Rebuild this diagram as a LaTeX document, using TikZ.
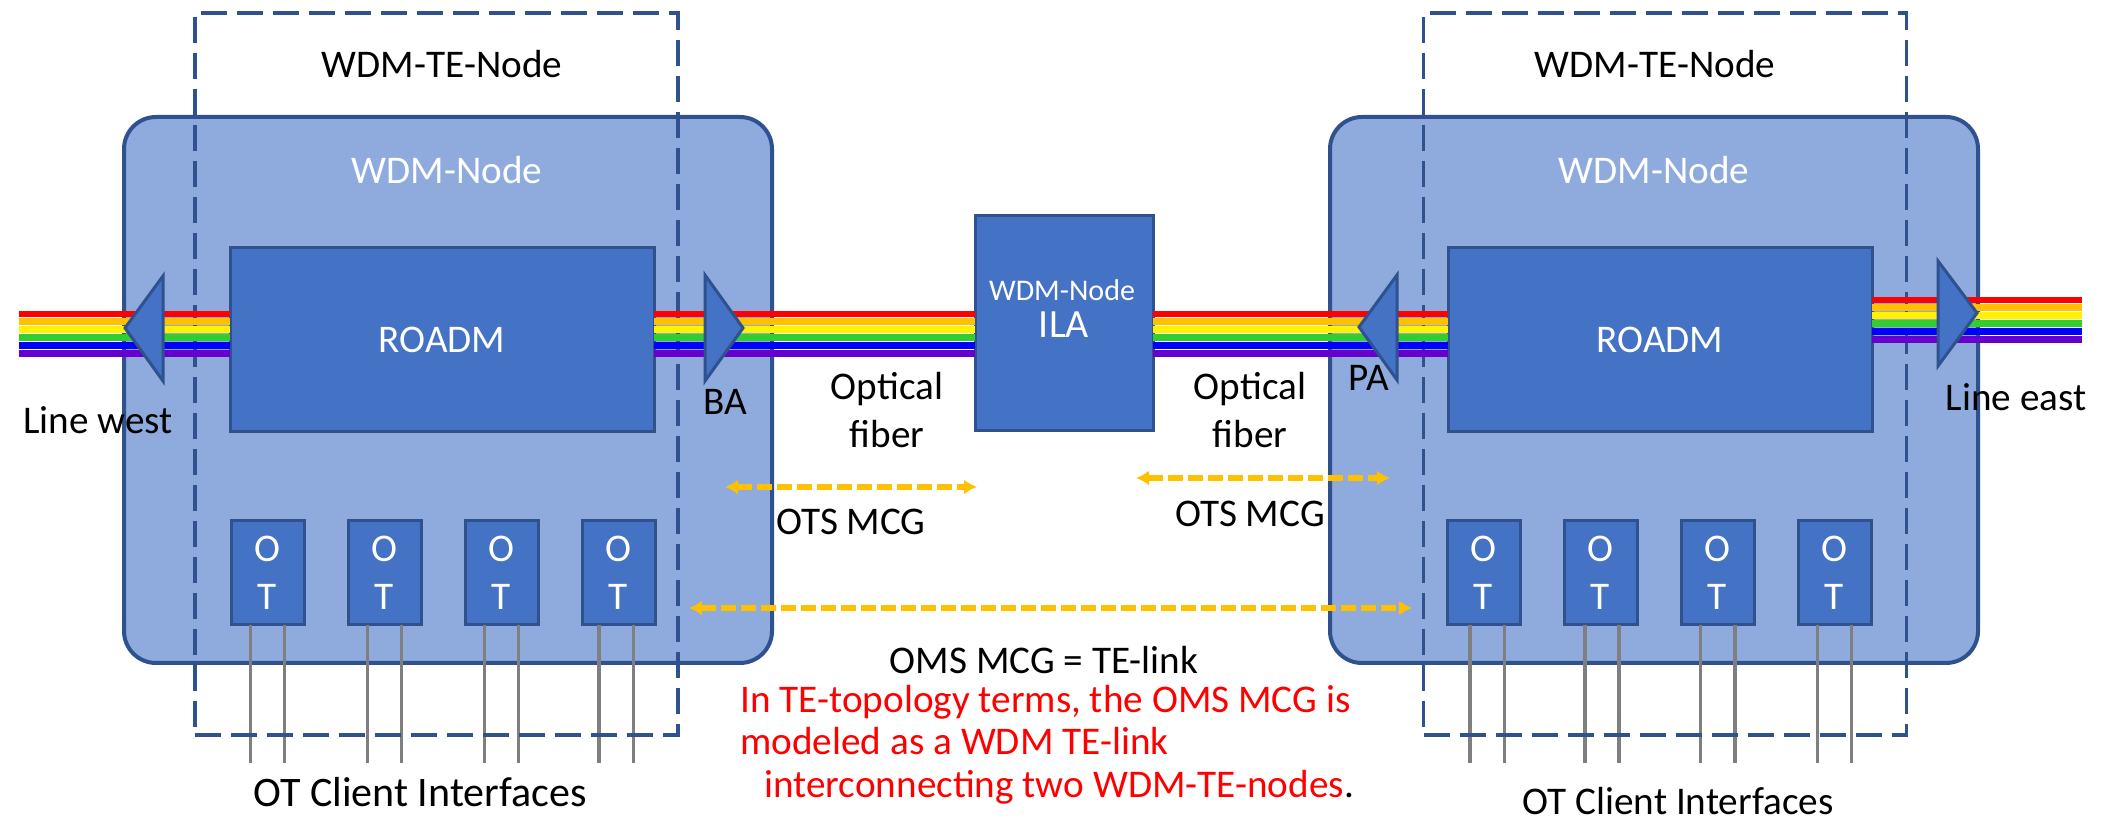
\documentclass[tikz,border=0pt]{standalone}
\usepackage{fontspec}
\setmainfont{Carlito}
\usetikzlibrary{arrows.meta}
\definecolor{navy}{HTML}{2F528F}
\definecolor{boxpale}{HTML}{8FAADC}
\definecolor{boxdeep}{HTML}{4472C4}
\definecolor{mcgamber}{HTML}{FFC000}
\definecolor{fibergreen}{HTML}{33CC33}
\definecolor{fiberviolet}{HTML}{6600CC}
\definecolor{clientgrey}{HTML}{7F7F7F}
% One bundle of six coloured fibres between two named coordinates.
\newcommand{\FiberRun}[2]{%
  \foreach \Fcol [count=\Fi from 0] in {red,mcgamber,yellow,fibergreen,blue,fiberviolet}
    \draw[fiber,\Fcol] ([yshift=-\Fi*3.92pt]#1) -- ([yshift=-\Fi*3.92pt]#2);
}
\begin{document}
\begin{tikzpicture}[x=0.5pt,y=-0.5pt,font=\fontsize{19.6pt}{23pt}\selectfont,
 wdmnode/.style={draw=navy,fill=boxpale,line width=2pt,rounded corners=16pt,
   minimum width=324pt,minimum height=273pt,inner sep=0pt,outer sep=0pt},
 tenode/.style={draw=navy,line width=1.75pt,dash pattern=on 13pt off 5pt,
   minimum width=241.5pt,minimum height=361pt,inner sep=0pt,outer sep=0pt},
 roadm/.style={draw=navy,fill=boxdeep,line width=1.5pt,minimum width=212pt,
   minimum height=92pt,text=white,inner sep=0pt,outer sep=0pt},
 ila/.style={draw=navy,fill=boxdeep,line width=1.5pt,minimum width=89pt,
   minimum height=107.5pt,inner sep=0pt,outer sep=0pt},
 otbox/.style={draw=navy,fill=boxdeep,line width=1.5pt,minimum width=36.5pt,
   minimum height=52pt,text=white,align=center,inner sep=0pt,outer sep=0pt},
 amp/.style={draw=navy,fill=boxdeep,line width=1.5pt,line join=miter},
 fiber/.style={line width=3.4pt},
 client/.style={clientgrey,line width=1.9pt},
 mcg/.style={mcgamber,line width=2.8pt,dash pattern=on 7.5pt off 2.5pt,
   {Latex[length=6.5pt,width=7.5pt]}-{Latex[length=6.5pt,width=7.5pt]}},
 note/.style={red,anchor=base west,inner sep=0pt}]
\useasboundingbox (0,0) rectangle (2105,822);

\node[wdmnode] (wdmwest) at (448,390) {};
\node[wdmnode] (wdmeast) at (1654,390) {};
\node[ila] (ila) at (1064,323.5) {};
\node[roadm] (roadmwest) at (442,340) {ROADM};
\node[roadm] (roadmeast) at (1660,340) {ROADM};

% Client side: four transponders per node, each with two grey tails.
\foreach \Side/\Ox/\TailA/\TailB [count=\k from 0] in
  {west/267.5/250.5/284.5,west/384.5/367.5/401.5,west/501.5/484.5/518.5,west/618.5/599/633.5,
   east/1483.5/1470/1504.5,east/1600.5/1585/1619,east/1717.5/1700.5/1735,east/1834.5/1817.5/1851.5} {
    \node[otbox] (ot\k) at (\Ox,573) {O\\[1pt]T};
    \coordinate (tailA\k) at (\TailA,763);
    \coordinate (tailB\k) at (\TailB,763);
    \draw[client] (ot\k.south -| tailA\k) -- (tailA\k);
    \draw[client] (ot\k.south -| tailB\k) -- (tailB\k);
  }

\node[tenode] (tewest) at (436.5,374) {};
\node[tenode] (teeast) at (1665,374) {};

\coordinate (westend) at (19,314);
\coordinate (eastend) at (2082,300);
\FiberRun{westend}{roadmwest.west |- westend}
\FiberRun{roadmwest.east |- westend}{ila.west |- westend}
\FiberRun{ila.east |- westend}{roadmeast.west |- westend}
\FiberRun{roadmeast.east |- eastend}{eastend}

% Amplifiers sit on top of the fibres.
\draw[amp] (125,328) -- (163,276) -- (163,381) -- cycle;
\draw[amp] (743,328) -- (705,275) -- (705,381) -- cycle;
\draw[amp] (1359,327) -- (1397,275) -- (1397,380) -- cycle;
\draw[amp] (1977,313) -- (1938,261) -- (1938,366) -- cycle;

\coordinate (otsAwest) at (725,487);
\coordinate (otsAeast) at (977,487);
\coordinate (otsBwest) at (1136,478);
\coordinate (otsBeast) at (1390,478);
\coordinate (omswest) at (689,608);
\coordinate (omseast) at (1412,608);
\draw[mcg] (otsAwest) -- (otsAeast);
\draw[mcg] (otsBwest) -- (otsBeast);
\draw[mcg] (omswest) -- (omseast);

\node (telabelwest) at (442,64) {WDM-TE-Node};
\node (telabeleast) at (1655,64) {WDM-TE-Node};
\node[white] (wdmlabelwest) at (447,170) {WDM-Node};
\node[white] (wdmlabeleast) at (1654,170) {WDM-Node};
\node[white,font=\fontsize{15pt}{18pt}\selectfont] (ilatop) at (1062,290) {WDM-Node};
\node[white,font=\fontsize{20pt}{24pt}\selectfont] (ilalabel) at (1064,325) {ILA};
\node (ba) at (725,402) {BA};
\node (pa) at (1369,378) {PA};
\node (linewest) at (98,420) {Line west};
\node (lineeast) at (2016,397) {Line east};
\node[align=center] (fiberwest) at (887,410) {Optical\\[1pt]fiber};
\node[align=center] (fibereast) at (1250,410) {Optical\\[1pt]fiber};
\node (otswest) at (851,522) {OTS MCG};
\node (otseast) at (1250,514) {OTS MCG};
\node (omslabel) at (1044,660) {OMS MCG = TE-link};
\node[note] (notea) at (740,713) {In TE-topology terms, the OMS MCG is};
\node[note] (noteb) at (740,755) {modeled as a WDM TE-link};
\node[note] (notec) at (764,798) {interconnecting two WDM-TE-nodes\textcolor{black}{.}};
\node[font=\fontsize{21pt}{25pt}\selectfont] (clientwest) at (420,792) {OT Client Interfaces};
\node[inner sep=0pt] (clienteast) at (1678,801) {OT Client Interfaces};
\end{tikzpicture}
\end{document}
